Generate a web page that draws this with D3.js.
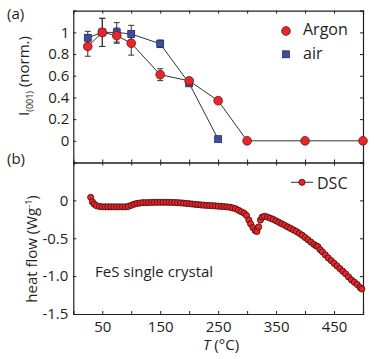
<!DOCTYPE html>
<html lang="en">
<head>
<meta charset="UTF-8">
<script src="https://cdn.jsdelivr.net/npm/d3@7"></script>
<style>
  body { margin: 0; background: #fff; }
  text { font-family: "Open Sans", sans-serif; fill: #231f20; }
  .axis path, .axis line { stroke: #231f20; }
</style>
</head>
<body>
<div id="chart"></div>
<script>
// (a) normalised (001) intensity
var tempsAr = [25, 50, 75, 100, 150, 200, 250, 300, 400, 500];
var argon   = [0.87, 1.0, 0.97, 0.90, 0.61, 0.553, 0.37, 0, 0, 0];
var argonErr = [0.09, 0.13, 0.07, 0.11, 0.055, 0.03, 0, 0, 0, 0];
var tempsAir = [25, 50, 75, 100, 150, 200, 250];
var air     = [0.95, 1.0, 1.0, 0.985, 0.895, 0.53, 0.015];
var airErr  = [0.06, 0.13, 0.09, 0.08, 0.035, 0.02, 0];

// (b) DSC heat flow
var dscT = [30, 33, 36, 40, 45, 50, 55, 60, 65, 70, 75, 80, 85, 90, 95, 100, 105, 110, 115, 120,
  125, 130, 135, 140, 145, 150, 155, 160, 165, 170, 175, 180, 185, 190, 195, 200, 205, 210, 215, 220,
  225, 230, 235, 240, 245, 250, 255, 260, 265, 270, 275, 280, 285, 290, 295, 299, 303, 306, 310, 314,
  317, 320, 323, 326, 330, 335, 340, 345, 350, 355, 360, 365, 370, 375, 380, 385, 390, 395, 400, 405,
  410, 415, 419, 422, 426, 430, 435, 440, 445, 450, 455, 460, 465, 470, 475, 480, 485, 490, 495, 498];
var dscQ = [0.04, -0.02, -0.05, -0.07, -0.08, -0.085, -0.085, -0.085, -0.085, -0.085, -0.085, -0.085, -0.085, -0.085, -0.08, -0.065, -0.05, -0.04, -0.035, -0.03,
  -0.03, -0.028, -0.027, -0.026, -0.025, -0.025, -0.025, -0.025, -0.026, -0.027, -0.028, -0.03, -0.033, -0.036, -0.04, -0.044, -0.048, -0.052, -0.056, -0.06,
  -0.063, -0.066, -0.068, -0.07, -0.073, -0.076, -0.079, -0.082, -0.086, -0.09, -0.1, -0.11, -0.13, -0.15, -0.17, -0.2, -0.26, -0.31, -0.36, -0.40,
  -0.41, -0.35, -0.26, -0.22, -0.21, -0.22, -0.235, -0.25, -0.27, -0.29, -0.31, -0.33, -0.35, -0.37, -0.39, -0.41, -0.435, -0.46, -0.49, -0.52,
  -0.55, -0.58, -0.6, -0.61, -0.65, -0.68, -0.72, -0.76, -0.795, -0.83, -0.865, -0.9, -0.935, -0.97, -1.01, -1.05, -1.08, -1.11, -1.15, -1.17];

var xTicks = [50, 100, 150, 200, 250, 300, 350, 400, 450];
var xLabels = [50, 150, 250, 350, 450];
var topTicks = [0, 0.2, 0.4, 0.6, 0.8, 1];
var botTicks = [-1.5, -1.0, -0.5, 0];

var red = '#e8262a', blue = '#3b4ea0', ink = '#231f20';

var svg = d3.select('#chart').append('svg').attr('width', 374).attr('height', 359);

var x = d3.scaleLinear().domain([0, 500]).range([73.3, 363]);
var yTop = d3.scaleLinear().domain([-0.2, 1.2]).range([162.5, 10.7]);
var yBot = d3.scaleLinear().domain([-1.5, 0.5]).range([314, 162.5]);

function axisStyle(g) {
  g.attr('class', 'axis');
  g.selectAll('text').style('font-size', '15px').attr('fill', ink);
  g.select('.domain').attr('stroke-width', 1.2);
}

// ---- panel (a) axes
svg.append('g').attr('transform', 'translate(' + x(0) + ',0)')
  .call(d3.axisLeft(yTop).tickValues(topTicks).tickSize(-3).tickPadding(4)
    .tickFormat(function(d){ return d === 1 ? '1' : d === 0 ? '0' : d3.format('.1f')(d); }))
  .call(axisStyle);
svg.append('g').attr('transform', 'translate(' + x(500) + ',0)')
  .call(d3.axisRight(yTop).tickValues(topTicks).tickSize(-3).tickFormat(''))
  .call(axisStyle);
svg.append('g').attr('transform', 'translate(0,' + yTop(1.2) + ')')
  .call(d3.axisTop(x).tickValues(xTicks).tickSize(-3).tickFormat(''))
  .call(axisStyle);
svg.append('g').attr('transform', 'translate(0,' + yTop(-0.2) + ')')
  .call(d3.axisBottom(x).tickValues(xTicks).tickSize(-3).tickFormat(''))
  .call(axisStyle);
svg.append('g').attr('transform', 'translate(0,' + yBot(0.5) + ')')
  .call(d3.axisTop(x).tickValues(xTicks).tickSize(-3).tickFormat(''))
  .call(axisStyle);

// ---- panel (b) axes
svg.append('g').attr('transform', 'translate(' + x(0) + ',0)')
  .call(d3.axisLeft(yBot).tickValues(botTicks).tickSize(-3).tickPadding(5)
    .tickFormat(function(d){ return d === 0 ? '0' : d3.format('.1f')(d).replace('\u2212', '-'); }))
  .call(axisStyle);
svg.append('g').attr('transform', 'translate(' + x(500) + ',0)')
  .call(d3.axisRight(yBot).tickValues([-1.0, -0.5, 0]).tickSize(-3).tickFormat(''))
  .call(axisStyle);
svg.append('g').attr('transform', 'translate(0,' + yBot(-1.5) + ')')
  .call(d3.axisBottom(x).tickValues(xTicks).tickSize(-3).tickPadding(7)
    .tickFormat(function(d){ return xLabels.indexOf(d) >= 0 ? d : ''; }))
  .call(axisStyle);

// ---- panel (a) data
var ar = tempsAr.map(function(t, i){ return {t: t, v: argon[i], e: argonErr[i]}; });
var ai = tempsAir.map(function(t, i){ return {t: t, v: air[i], e: airErr[i]}; });
var lineTop = d3.line().x(function(d){ return x(d.t); }).y(function(d){ return yTop(d.v); });

[ai, ar].forEach(function(s){
  svg.append('path').datum(s).attr('d', lineTop)
    .attr('fill', 'none').attr('stroke', '#333').attr('stroke-width', 1);
});

[ai, ar].forEach(function(s){
  var eb = svg.append('g').selectAll('g').data(s.filter(function(d){ return d.e > 0; }))
    .enter().append('g').attr('stroke', '#333').attr('stroke-width', 1);
  eb.append('line').attr('x1', function(d){ return x(d.t); }).attr('x2', function(d){ return x(d.t); })
    .attr('y1', function(d){ return yTop(d.v + d.e); }).attr('y2', function(d){ return yTop(d.v - d.e); });
  [1, -1].forEach(function(sg){
    eb.append('line').attr('x1', function(d){ return x(d.t) - 3; }).attr('x2', function(d){ return x(d.t) + 3; })
      .attr('y1', function(d){ return yTop(d.v + sg * d.e); }).attr('y2', function(d){ return yTop(d.v + sg * d.e); });
  });
});

svg.append('g').selectAll('rect').data(ai).enter().append('rect')
  .attr('x', function(d){ return x(d.t) - 3.5; }).attr('y', function(d){ return yTop(d.v) - 3.5; })
  .attr('width', 7).attr('height', 7)
  .attr('fill', blue).attr('stroke', '#1c2350').attr('stroke-width', 0.7);
svg.append('g').selectAll('circle').data(ar).enter().append('circle')
  .attr('cx', function(d){ return x(d.t); }).attr('cy', function(d){ return yTop(d.v); }).attr('r', 4.4)
  .attr('fill', red).attr('stroke', '#5a1212').attr('stroke-width', 0.7);

// legend (a)
svg.append('circle').attr('cx', 286).attr('cy', 31).attr('r', 4.4)
  .attr('fill', red).attr('stroke', '#5a1212').attr('stroke-width', 0.7);
svg.append('text').attr('x', 303).attr('y', 35).style('font-size', '16px').text('Argon');
svg.append('rect').attr('x', 282.5).attr('y', 50.8).attr('width', 7).attr('height', 7)
  .attr('fill', blue).attr('stroke', '#1c2350').attr('stroke-width', 0.7);
svg.append('text').attr('x', 303).attr('y', 59).style('font-size', '16px').text('air');

// ---- panel (b) data
svg.append('g').selectAll('circle').data(dscT).enter().append('circle')
  .attr('cx', function(d){ return x(d); }).attr('cy', function(d, i){ return yBot(dscQ[i]); }).attr('r', 3.1)
  .attr('fill', red).attr('stroke', '#3a0e0e').attr('stroke-width', 0.8);

// legend (b)
svg.append('line').attr('x1', 291).attr('x2', 313).attr('y1', 182.3).attr('y2', 182.3)
  .attr('stroke', '#333').attr('stroke-width', 1);
svg.append('circle').attr('cx', 302).attr('cy', 182.3).attr('r', 3.1)
  .attr('fill', red).attr('stroke', '#3a0e0e').attr('stroke-width', 0.8);
svg.append('text').attr('x', 317).attr('y', 188.5).style('font-size', '16px').text('DSC');

svg.append('text').attr('x', 95).attr('y', 277).style('font-size', '15px').text('FeS single crystal');

// ---- labels
svg.append('text').attr('x', 7).attr('y', 19).style('font-size', '15px').text('(a)');
svg.append('text').attr('x', 7).attr('y', 164).style('font-size', '15px').text('(b)');

var yl1 = svg.append('text').attr('transform', 'translate(29,76) rotate(-90)')
  .attr('text-anchor', 'middle').style('font-size', '15px');
yl1.append('tspan').text('I');
yl1.append('tspan').attr('dy', 4).style('font-size', '9px').text('(001)');
yl1.append('tspan').attr('dy', -4).text(' (norm.)');

var yl2 = svg.append('text').attr('transform', 'translate(37,249) rotate(-90)')
  .attr('text-anchor', 'middle').style('font-size', '15px');
yl2.append('tspan').text('heat flow (Wg');
yl2.append('tspan').attr('dy', -5).style('font-size', '9px').text('-1');
yl2.append('tspan').attr('dy', 5).text(')');

var xl = svg.append('text').attr('x', 221).attr('y', 350).attr('text-anchor', 'middle').style('font-size', '15px');
xl.append('tspan').style('font-style', 'italic').text('T');
xl.append('tspan').text(' (\u00b0C)');
</script>
</body>
</html>
